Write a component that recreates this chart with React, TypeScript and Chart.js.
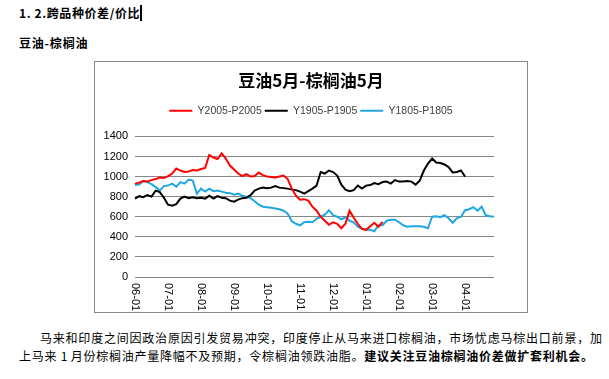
import React, { useEffect, useRef } from 'react';
import { Chart, registerables } from 'chart.js';

Chart.register(...registerables);

// ---- data ----
const MONTHS = ['06-01', '07-01', '08-01', '09-01', '10-01', '11-01', '12-01', '01-01', '02-01', '03-01', '04-01'];
const STEPS_PER_MONTH = 8;
const TOTAL_STEPS = 88;
const SERIES_NAMES = ['Y2005-P2005', 'Y1905-P1905', 'Y1805-P1805'];
const SERIES_COLORS = ['#FF0000', '#000000', '#1FA7E1'];
const Y_MIN = 0;
const Y_MAX = 1400;
const Y_STEP = 200;

const Y2005 = [
  930, 940, 955, 950, 965, 975, 990, 985, 1005, 1030,
  1080, 1060, 1045, 1050, 1065, 1060, 1075, 1085, 1215, 1190,
  1175, 1230, 1180, 1110, 1070, 1030, 1005, 1025, 1000, 1005,
  1040, 1015, 1000, 995, 990, 1000, 1010, 975, 880, 810,
  770, 775, 760, 700, 660, 600, 560, 520, 545, 530,
  485, 530, 660, 590, 530, 480, 470, 505, 540, 500,
  550,
];

const Y1905 = [
  780, 805, 795, 815, 800, 860, 845, 790, 720, 710,
  725, 780, 800, 785, 795, 785, 790, 780, 810, 780,
  805, 790, 785, 760, 750, 770, 785, 790, 815, 860,
  880, 890, 885, 890, 905, 890, 885, 880, 870, 865,
  850, 830, 855, 880, 910, 1045, 1030, 1060, 1045, 1010,
  920, 870, 855, 865, 910, 880, 910, 915, 935, 925,
  945, 950, 930, 965, 950, 950, 955, 950, 920, 960,
  1060, 1130, 1180, 1140, 1135, 1120, 1095, 1040, 1045, 1060,
  1000,
];

const Y1805 = [
  915, 920, 955, 945, 925, 895, 860, 905, 910, 930,
  900, 945, 930, 970, 960, 830, 880, 850, 880, 855,
  860, 850, 840, 835, 820, 830, 810, 800, 785, 755,
  720, 700, 695, 690, 683, 675, 660, 630, 555, 530,
  515, 545, 550, 545, 580, 600, 620, 665, 615, 600,
  575, 595, 560, 545, 500, 480, 470, 470, 455, 515,
  515, 560, 570, 570, 545, 515, 500, 505, 505, 505,
  500, 485, 600, 605, 595, 615, 585, 540, 585, 600,
  665, 675, 695, 660, 700, 615, 605, 600,
];

const SERIES = [Y2005, Y1905, Y1805];

// category labels (one per sampling step, month starts carry the tick labels)
const LABELS: string[] = [];
for (let i = 0; i < TOTAL_STEPS; i++) {
  const m = MONTHS[Math.min(Math.floor(i / STEPS_PER_MONTH), MONTHS.length - 1)];
  const k = i % STEPS_PER_MONTH;
  const dd = 1 + Math.round((k * 30) / STEPS_PER_MONTH);
  LABELS.push(m.slice(0, 3) + String(dd).padStart(2, '0'));
}

const AXIS_FONT = '"Liberation Sans", Arial, sans-serif';
const CJK_FONT = '"Noto Sans CJK SC", "Noto Sans", sans-serif';

const monthLabelPlugin = {
  id: 'monthLabels',
  afterDraw(chart: any) {
    const { ctx, chartArea, scales } = chart;
    const x = scales.x;
    ctx.save();
    ctx.font = `11px ${AXIS_FONT}`;
    ctx.fillStyle = '#000000';
    ctx.textAlign = 'left';
    ctx.textBaseline = 'middle';
    MONTHS.forEach((m, k) => {
      const px = x.getPixelForValue(k * STEPS_PER_MONTH);
      ctx.save();
      ctx.translate(px, chartArea.bottom + 6);
      ctx.rotate(Math.PI / 2);
      ctx.fillText(m, 0, 0);
      ctx.restore();
    });
    ctx.restore();
  },
};

function ChartBox() {
  const ref = useRef<HTMLCanvasElement | null>(null);
  useEffect(() => {
    if (!ref.current) return;
    const chart = new Chart(ref.current, {
      type: 'line',
      data: {
        labels: LABELS,
        datasets: SERIES.map((s, i) => ({
          label: SERIES_NAMES[i],
          data: s,
          borderColor: SERIES_COLORS[i],
          backgroundColor: SERIES_COLORS[i],
          borderWidth: 2,
          pointRadius: 0,
          tension: 0,
          fill: false,
          yAxisID: 'y',
        })),
      },
      options: {
        animation: false,
        responsive: false,
        devicePixelRatio: 1,
        layout: { padding: 0 },
        plugins: {
          title: {
            display: true,
            text: '豆油5月-棕榈油5月',
            color: '#000000',
            font: { family: CJK_FONT, size: 17, weight: 'bold' },
            padding: { top: 8, bottom: 12 },
          },
          legend: {
            display: true,
            position: 'top',
            align: 'center',
            labels: {
              usePointStyle: true,
              pointStyle: 'line',
              pointStyleWidth: 23,
              boxHeight: 10.5,
              padding: 3,
              color: '#404040',
              font: { family: AXIS_FONT, size: 10.5 },
            },
          },
          subtitle: {
            display: true,
            text: '',
            weight: 500,
            font: { size: 1 },
            padding: { top: 9.3, bottom: 0 },
          },
          tooltip: { enabled: false },
        },
        scales: {
          x: {
            type: 'category',
            offset: false,
            grid: { display: false },
            border: { display: false },
            ticks: { display: false },
            afterFit: (s: any) => {
              s.height = 35;
            },
          },
          y: {
            position: 'left',
            min: Y_MIN,
            max: Y_MAX,
            ticks: {
              stepSize: Y_STEP,
              padding: 7,
              color: '#000000',
              font: { family: AXIS_FONT, size: 11 },
              callback: (v: any) => String(v),
            },
            grid: { color: '#878787', lineWidth: 1, drawTicks: false },
            border: { display: false },
            afterFit: (s: any) => {
              s.width = 40;
            },
          },
          yRight: {
            position: 'right',
            min: Y_MIN,
            max: Y_MAX,
            ticks: { display: false },
            grid: { display: false },
            border: { display: false },
            afterFit: (s: any) => {
              s.width = 33;
            },
          },
        },
      },
      plugins: [monthLabelPlugin],
    } as any);
    return () => chart.destroy();
  }, []);
  return <canvas ref={ref} width={432} height={250} style={{ width: 432, height: 250, display: 'block' }} />;
}

export default function App() {
  const abs = (left: number, top: number): React.CSSProperties => ({ position: 'absolute', left, top });
  const textBase: React.CSSProperties = {
    fontFamily: CJK_FONT,
    fontSize: 12,
    lineHeight: '16px',
    color: '#000',
    whiteSpace: 'pre',
  };
  return (
    <div style={{ position: 'absolute', left: 0, top: 0, width: 609, height: 379, background: '#fff', overflow: 'hidden' }}>
      <div style={{ ...abs(19, 5), ...textBase, fontWeight: 'bold', letterSpacing: 0.6 }}>1. 2.跨品种价差/价比</div>
      <div style={{ position: 'absolute', left: 140, top: 5, width: 2, height: 16, background: '#000' }} />
      <div style={{ ...abs(19, 35), ...textBase, fontWeight: 'bold', letterSpacing: 0.8 }}>豆油-棕榈油</div>
      <div
        style={{
          position: 'absolute',
          left: 94,
          top: 61,
          width: 434,
          height: 252,
          border: '1px solid #888',
          boxSizing: 'border-box',
        }}
      >
        <ChartBox />
      </div>
      <div
        style={{
          ...abs(40, 330),
          ...textBase,
          whiteSpace: 'normal',
          width: 562,
          textAlign: 'justify',
          textAlignLast: 'justify',
          height: 16,
          overflow: 'hidden',
        }}
      >
        马来和印度之间因政治原因引发贸易冲突，印度停止从马来进口棕榈油，市场忧虑马棕出口前景，加
      </div>
      <div
        style={{
          ...abs(19, 348),
          ...textBase,
          whiteSpace: 'normal',
          width: 574,
          textAlign: 'justify',
          textAlignLast: 'justify',
          height: 16,
          overflow: 'hidden',
        }}
      >
        上马来 1 月份棕榈油产量降幅不及预期，令棕榈油领跌油脂。<b>建议关注豆油棕榈油价差做扩套利机会。</b>
      </div>
    </div>
  );
}
